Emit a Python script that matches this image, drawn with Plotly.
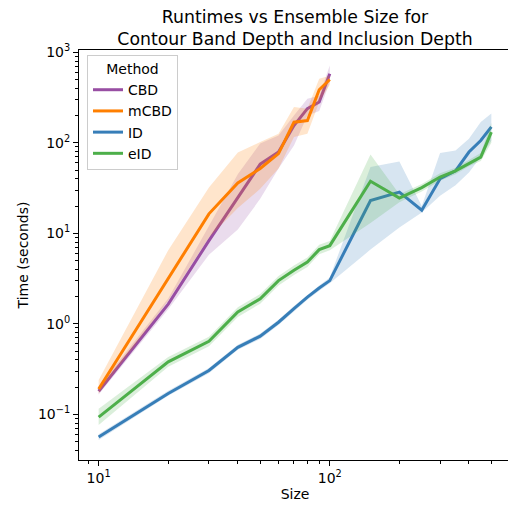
import plotly.graph_objects as go

# ---------------- data ----------------
sizes_cbd = [10, 20, 30, 40, 50, 60, 70, 80, 90, 100]
cbd_mean = [0.18, 1.65, 8.3, 25, 58, 79, 155, 238, 282, 578]
cbd_lo = [0.165, 1.45, 5.8, 11, 24, 52, 93, 200, 225, 470]
cbd_hi = [0.20, 1.9, 12, 45, 98, 120, 200, 306, 330, 714]

mcbd_mean = [0.19, 3.1, 16.4, 36, 52, 76, 169, 176, 385, 500]
mcbd_lo = [0.17, 1.8, 9, 19, 31, 52, 116, 126, 282, 437]
mcbd_hi = [0.24, 6.5, 32, 78, 102, 126, 248, 238, 510, 550]

sizes_id = [10, 20, 30, 40, 50, 60, 70, 80, 90, 100, 150, 200, 250, 300, 350, 400, 450, 500]
id_mean = [0.056, 0.17, 0.305, 0.55, 0.73, 1.04, 1.47, 1.97, 2.48, 3.0, 23, 28.5, 18, 40, 49, 79, 106, 150]
id_lo = [0.052, 0.16, 0.285, 0.515, 0.68, 0.97, 1.37, 1.84, 2.32, 2.8, 6.6, 11.6, 17, 26, 34, 47, 70, 105]
id_hi = [0.060, 0.182, 0.325, 0.585, 0.78, 1.11, 1.57, 2.1, 2.65, 3.25, 54, 62, 20, 77, 82, 111, 170, 210]

eid_mean = [0.093, 0.38, 0.64, 1.35, 1.89, 3.0, 3.9, 4.8, 6.6, 7.3, 37.5, 24.5, 32, 41.8, 49, 59.6, 69.5, 131]
eid_lo = [0.076, 0.335, 0.565, 1.19, 1.67, 2.65, 3.45, 4.25, 5.85, 6.5, 13, 22, 29, 38, 45, 55, 63, 100]
eid_hi = [0.115, 0.43, 0.72, 1.52, 2.13, 3.38, 4.4, 5.4, 7.45, 8.2, 74, 27, 35, 46, 53, 65, 77, 165]

methods = ["CBD", "mCBD", "ID", "eID"]
colors = ["#984ea3", "#ff7f00", "#377eb8", "#4daf4a"]
fills = ["rgba(152,78,163,0.2)", "rgba(255,127,0,0.2)", "rgba(55,126,184,0.2)", "rgba(77,175,74,0.2)"]

series = [
    (sizes_cbd, cbd_mean, cbd_lo, cbd_hi),
    (sizes_cbd, mcbd_mean, mcbd_lo, mcbd_hi),
    (sizes_id, id_mean, id_lo, id_hi),
    (sizes_id, eid_mean, eid_lo, eid_hi),
]

x_major = [10, 100]
x_major_text = ["10<sup>1</sup>", "10<sup>2</sup>"]
y_major = [0.1, 1, 10, 100, 1000]
y_major_text = ["10<sup>\u22121</sup>", "10<sup>0</sup>", "10<sup>1</sup>", "10<sup>2</sup>", "10<sup>3</sup>"]
x_minor = [9, 20, 30, 40, 50, 60, 70, 80, 90, 200, 300, 400, 500, 600]
y_minor = [m * d for d in [0.01, 0.1, 1, 10, 100] for m in range(2, 10)]

# ---------------- figure ----------------
fig = go.Figure()
for name, col, fc, (xs, m, lo, hi) in zip(methods, colors, fills, series):
    fig.add_trace(go.Scatter(
        x=list(xs) + list(xs)[::-1], y=list(hi) + list(lo)[::-1],
        fill="toself", fillcolor=fc, line=dict(color="rgba(0,0,0,0)", width=0),
        mode="lines", showlegend=False, hoverinfo="skip"))
    fig.add_trace(go.Scatter(
        x=xs, y=m, mode="lines", name=name,
        line=dict(color=col, width=3)))

font = "DejaVu Sans"
# page body has an 8px margin, so the figure is drawn 8px smaller
W, H = 508, 498
fig.update_layout(
    width=W, height=H,
    margin=dict(l=71, r=5, t=42, b=46, autoexpand=False),
    plot_bgcolor="white", paper_bgcolor="white",
    font=dict(family=font, size=14, color="black"),
    title=dict(
        text="Runtimes vs Ensemble Size for<br>Contour Band Depth and Inclusion Depth",
        x=0.5, xanchor="center", xref="paper",
        y=(H - 14.5) / H, yanchor="bottom", yref="container",
        font=dict(size=17.3, family=font, color="black")),
    legend=dict(
        x=0.0185, y=0.988, xanchor="left", yanchor="top",
        bgcolor="rgba(255,255,255,0.8)", bordercolor="#cccccc", borderwidth=1,
        font=dict(size=14, family=font),
        title=dict(text="Method", side="top center", font=dict(size=14, family=font)),
        tracegroupgap=0),
    showlegend=True,
)
fig.update_xaxes(
    type="log", range=[0.915, 2.784], automargin=False,
    showline=True, linecolor="black", linewidth=1, mirror=True,
    showgrid=False, zeroline=False,
    tickmode="array", tickvals=x_major, ticktext=x_major_text,
    ticks="outside", ticklen=5, tickwidth=1, tickcolor="black",
    minor=dict(tickmode="array", tickvals=x_minor, ticks="outside", ticklen=3,
               tickwidth=0.8, tickcolor="black", showgrid=False),
    title=dict(text="Size", font=dict(size=14, family=font), standoff=4),
    tickfont=dict(size=14, family=font),
)
fig.update_yaxes(
    type="log", range=[-1.505, 3.025], automargin=False,
    showline=True, linecolor="black", linewidth=1, mirror=True,
    showgrid=False, zeroline=False,
    tickmode="array", tickvals=y_major, ticktext=y_major_text,
    ticks="outside", ticklen=5, tickwidth=1, tickcolor="black",
    minor=dict(tickmode="array", tickvals=y_minor, ticks="outside", ticklen=3,
               tickwidth=0.8, tickcolor="black", showgrid=False),
    title=dict(text="Time (seconds)", font=dict(size=14, family=font), standoff=6),
    tickfont=dict(size=14, family=font),
)

fig.write_html("out.html")
